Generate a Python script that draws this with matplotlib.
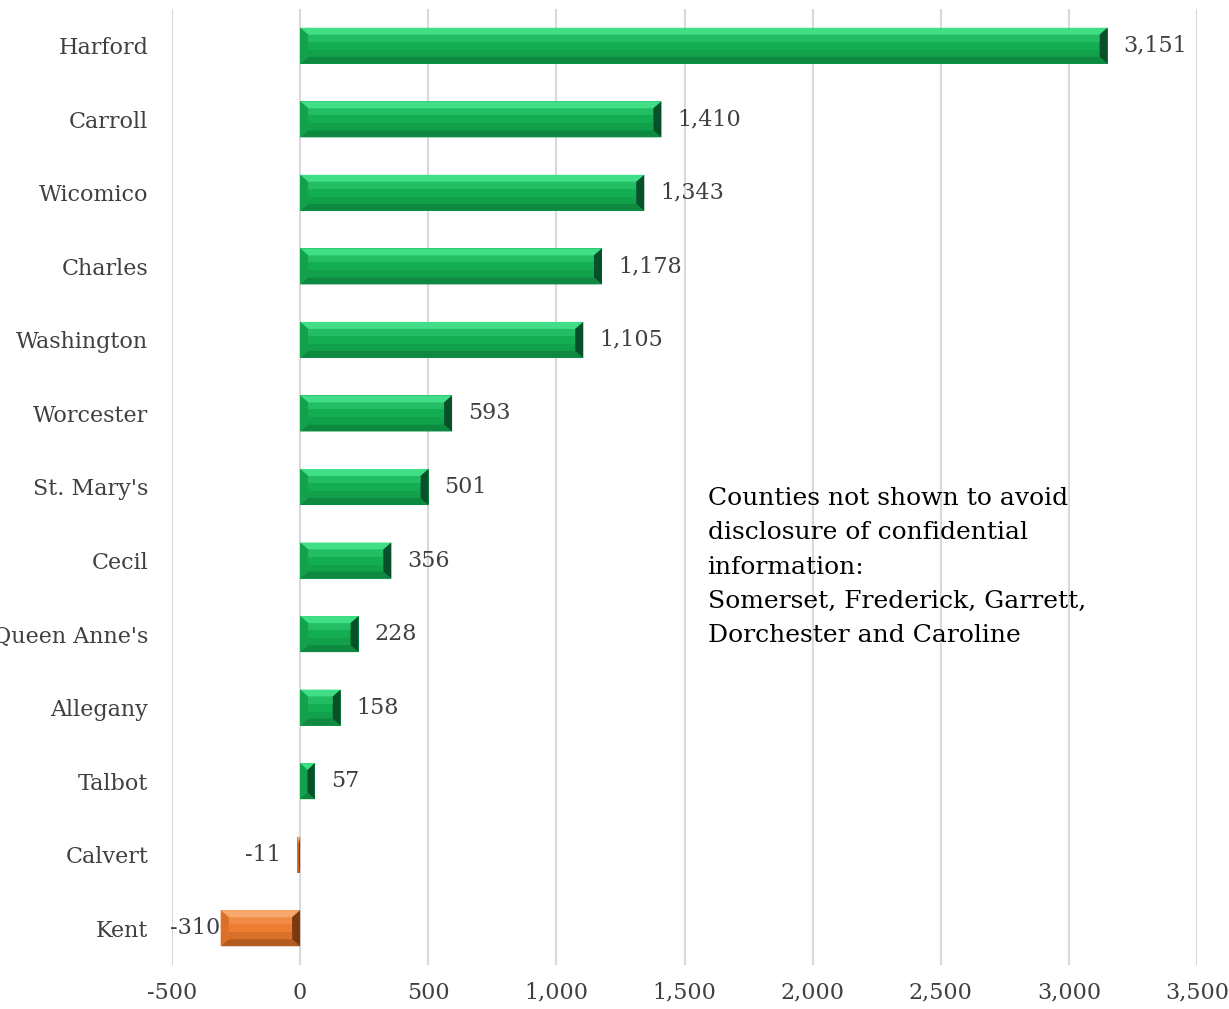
import numpy as np
import matplotlib
matplotlib.use('Agg')
import matplotlib.pyplot as plt
from matplotlib.patches import Polygon
from matplotlib.ticker import FuncFormatter

# data, top to bottom
counties = ['Harford', 'Carroll', 'Wicomico', 'Charles', 'Washington', 'Worcester',
            "St. Mary's", 'Cecil', "Queen Anne's", 'Allegany', 'Talbot', 'Calvert', 'Kent']
values = [3151, 1410, 1343, 1178, 1105, 593, 501, 356, 228, 158, 57, -11, -310]
xticks = [-500, 0, 500, 1000, 1500, 2000, 2500, 3000, 3500]
note = ('Counties not shown to avoid\ndisclosure of confidential\ninformation:\n'
        'Somerset, Frederick, Garrett,\nDorchester and Caroline')

plt.rcParams['font.family'] = ['DejaVu Serif']

fig = plt.figure(figsize=(12.29, 10.09), dpi=100)
ax = fig.add_axes([172 / 1229, 1 - 965 / 1009, 1025 / 1229, 956 / 1009])

n = len(counties)
ypos = np.arange(n)[::-1]
height = 0.49

green = dict(face='#14AE52', top='#40DE86', bottom='#0E8A40', left='#12A24B', right='#07502A')
orange = dict(face='#ED7D31', top='#F8A86C', bottom='#B35A1E', left='#DC7029', right='#7A3A10')

# bevel sizes in data units (approx. 8 px)
bx = 8 / 256.25 * 1000
by = 7 / 73.5

ax.barh(ypos, values, height=height, color=[green['face'] if v >= 0 else orange['face'] for v in values],
        zorder=2)

for y, v in zip(ypos, values):
    c = green if v >= 0 else orange
    x0, x1 = min(0, v), max(0, v)
    yb, yt = y - height / 2, y + height / 2
    b = min(bx, (x1 - x0) / 2)
    faces = [
        ([(x0, yt), (x1, yt), (x1 - b, yt - by), (x0 + b, yt - by)], c['top']),
        ([(x0, yb), (x1, yb), (x1 - b, yb + by), (x0 + b, yb + by)], c['bottom']),
        ([(x0, yb), (x0, yt), (x0 + b, yt - by), (x0 + b, yb + by)], c['left']),
        ([(x1, yb), (x1, yt), (x1 - b, yt - by), (x1 - b, yb + by)], c['right']),
    ]
    for pts, col in faces:
        ax.add_patch(Polygon(pts, closed=True, facecolor=col, edgecolor='none', zorder=3))
    # soft light band in the upper part of the face, darker band in the lower part
    ax.add_patch(Polygon([(x0 + b, yt - by), (x1 - b, yt - by), (x1 - b, yt - 2 * by), (x0 + b, yt - 2 * by)],
                         closed=True, facecolor=c['top'], alpha=0.35, edgecolor='none', zorder=3))
    ax.add_patch(Polygon([(x0 + b, yb + by), (x1 - b, yb + by), (x1 - b, yb + 2 * by), (x0 + b, yb + 2 * by)],
                         closed=True, facecolor=c['bottom'], alpha=0.35, edgecolor='none', zorder=3))

    lab = f'{v:,}'
    if v >= 0:
        ax.annotate(lab, (v, y), xytext=(16, 0), textcoords='offset pixels',
                    ha='left', va='center', fontsize=16, color='#404040')
    else:
        off = -16 if v > -100 else 0
        ax.annotate(lab, (v, y), xytext=(off, 0), textcoords='offset pixels',
                    ha='right', va='center', fontsize=16, color='#404040')

ax.set_xlim(-500, 3500)
ax.set_ylim(-0.5, n - 0.5)
ax.set_xticks(xticks)
ax.xaxis.set_major_formatter(FuncFormatter(lambda x, p: f'{int(x):,}'))
ax.set_yticks(ypos)
ax.set_yticklabels(counties)
ax.tick_params(axis='both', length=0, labelsize=16, labelcolor='#404040')
ax.tick_params(axis='y', pad=17)
ax.tick_params(axis='x', pad=12)
ax.grid(axis='x', color='#D9D9D9', linewidth=1.5, zorder=0)
ax.set_axisbelow(True)
for s in ax.spines.values():
    s.set_visible(False)

ax.text(1590, 6.0, note, ha='left', va='top', fontsize=18, color='black', linespacing=1.63)

fig.savefig('out.png', dpi=100)
